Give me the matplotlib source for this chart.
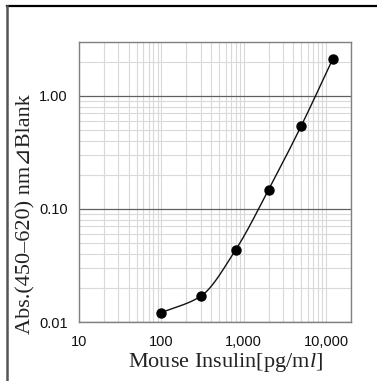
import numpy as np
import matplotlib
matplotlib.use("Agg")
import matplotlib.pyplot as plt
from matplotlib.ticker import FixedLocator, FixedFormatter, LogLocator, NullFormatter
from matplotlib.lines import Line2D

# Data
conc = [100, 300, 800, 2000, 5000, 12000]
absorb = [0.0121, 0.0169, 0.0437, 0.148, 0.547, 2.12]
x_ticks = [10, 100, 1000, 10000]
x_ticklabels = ["10", "100", "1,000", "10,000"]
y_ticks = [0.01, 0.1, 1.0]
y_ticklabels = ["0.01", "0.10", "1.00"]

plt.rcParams['mathtext.fontset'] = 'custom'
plt.rcParams['mathtext.rm'] = 'Liberation Serif'
plt.rcParams['mathtext.it'] = 'Liberation Serif:italic'

fig = plt.figure(figsize=(3.77, 3.81), dpi=100)
W, H = 377, 381
ax = fig.add_axes([79 / W, 1 - 322 / H, (351 - 79) / W, (322 - 42) / H])
ax.set_xscale('log')
ax.set_yscale('log')
ax.set_xlim(10, 20000)
ax.set_ylim(0.01, 3)

# smooth curve (monotone cubic in log-log space through data)
lx = np.log10(conc)
ly = np.log10(absorb)
h = np.diff(lx)
d = np.diff(ly) / h
m = np.zeros_like(lx)
m[0] = d[0]
m[-1] = d[-1]
for i in range(1, len(lx) - 1):
    if d[i - 1] * d[i] > 0:
        w1 = 2 * h[i] + h[i - 1]
        w2 = h[i] + 2 * h[i - 1]
        m[i] = (w1 + w2) / (w1 / d[i - 1] + w2 / d[i])
xs, ys = [], []
for i in range(len(lx) - 1):
    t = np.linspace(0, 1, 40)
    h00 = 2 * t**3 - 3 * t**2 + 1
    h10 = t**3 - 2 * t**2 + t
    h01 = -2 * t**3 + 3 * t**2
    h11 = t**3 - t**2
    xs.append(lx[i] + t * h[i])
    ys.append(h00 * ly[i] + h10 * h[i] * m[i] + h01 * ly[i + 1] + h11 * h[i] * m[i + 1])
xs = 10 ** np.concatenate(xs)
ys = 10 ** np.concatenate(ys)
ax.plot(xs, ys, color='#111111', lw=1.0, zorder=3)
ax.plot(conc, absorb, 'o', color='black', ms=6.5, zorder=4)

# grid
ax.xaxis.set_minor_locator(LogLocator(base=10, subs=np.arange(2, 10)))
ax.yaxis.set_minor_locator(LogLocator(base=10, subs=np.arange(2, 10)))
ax.xaxis.set_minor_formatter(NullFormatter())
ax.yaxis.set_minor_formatter(NullFormatter())
ax.grid(True, which='minor', axis='both', color='#d9d9d9', lw=0.8)
ax.grid(True, which='major', axis='x', color='#d9d9d9', lw=0.8)
ax.grid(True, which='major', axis='y', color='#606060', lw=0.9)
ax.set_axisbelow(True)

ax.xaxis.set_major_locator(FixedLocator(x_ticks))
ax.xaxis.set_major_formatter(FixedFormatter(x_ticklabels))
ax.yaxis.set_major_locator(FixedLocator(y_ticks))
ax.yaxis.set_major_formatter(FixedFormatter(y_ticklabels))
ax.tick_params(which='both', length=0)
ax.tick_params(axis='x', pad=9)
ax.tick_params(axis='y', pad=8)
for lab in ax.get_xticklabels() + ax.get_yticklabels():
    lab.set_fontfamily('Liberation Sans')
    lab.set_fontsize(10.5)
    lab.set_color('#111111')
for s in ax.spines.values():
    s.set_color('#808080')
    s.set_linewidth(1.0)

fig.text(226 / W, 1 - 363 / H, 'Mouse Insulin[pg/m$\\mathit{l}$]', fontsize=16,
         family=['Liberation Serif', 'DejaVu Serif'], color='#222222',
         ha='center', va='center')
fig.text(26 / W, 1 - 214 / H, 'Abs.(450\u2013620) nm\u22bfBlank', fontsize=16,
         family=['Liberation Serif', 'DejaVu Serif', 'DejaVu Sans'], color='#222222',
         ha='center', va='center', rotation=90)

# outer frame lines
fig.add_artist(Line2D([7 / W, 1.0], [1 - 6 / H, 1 - 6 / H], color='black', lw=1.6))
fig.add_artist(Line2D([7 / W, 7 / W], [1 - 6 / H, 0], color='#555555', lw=1.8))

fig.savefig('out.png', dpi=100)
